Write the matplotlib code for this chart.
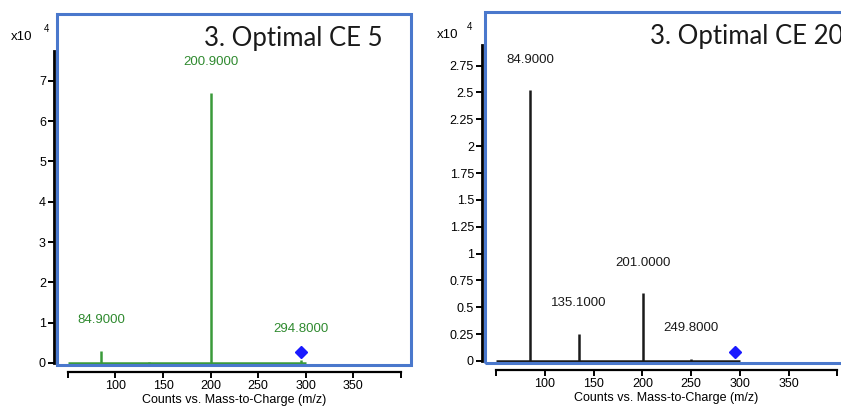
import matplotlib
matplotlib.use("Agg")
import matplotlib.pyplot as plt
from matplotlib.patches import Rectangle

plt.rcParams['font.family'] = ['Liberation Sans', 'DejaVu Sans']

# Spectrum at CE 5 (intensity in units of 10^4 counts)
ce5_mz = [84.9, 135.1, 200.9, 294.8]
ce5_int = [0.30, 0.03, 6.70, 0.08]
ce5_labels = ['84.9000', None, '200.9000', '294.8000']

# Spectrum at CE 20
ce20_mz = [84.9, 135.1, 201.0, 249.8]
ce20_int = [2.52, 0.25, 0.63, 0.02]
ce20_labels = ['84.9000', '135.1000', '201.0000', '249.8000']

precursor_mz = 294.8
ce5_precursor_y = 0.27
ce20_precursor_y = 0.085

ce5_yticks = [0, 1, 2, 3, 4, 5, 6, 7]
ce20_yticks = [0, 0.25, 0.5, 0.75, 1, 1.25, 1.5, 1.75, 2, 2.25, 2.5, 2.75]
xticks = [50, 100, 150, 200, 250, 300, 350, 400]
xticklabels = ['', '100', '150', '200', '250', '300', '350', '']

fig = plt.figure(figsize=(8.41, 4.13), dpi=100)
ax1 = fig.add_axes([0.0678, 0.1162, 0.421, 0.850])
ax2 = fig.add_axes([0.5767, 0.121, 0.4316, 0.850])

BLUE = '#4a78cc'


def spectrum(ax, mz, inten, labels, color, txtcolor, yticks, ylim, ytop, prec_y,
             title, title_x, title_ha, frame_w):
    ax.set_xlim(38.5, 411)
    ax.set_ylim(*ylim)
    ax.hlines(0, 50, 300, color=color, lw=1.8, zorder=3)
    ax.vlines(mz, 0, inten, color=color, lw=1.8, zorder=3)
    for m, v, lab in zip(mz, inten, labels):
        if lab:
            ax.annotate(lab, (m, v), xytext=(0, 22), textcoords='offset points',
                        ha='center', va='center', fontsize=9.5, color=txtcolor)
    ax.plot([precursor_mz], [prec_y], marker='D', ms=6, color='#1a1aff',
            ls='none', zorder=4, clip_on=False)

    for s in ['top', 'right']:
        ax.spines[s].set_visible(False)
    ax.spines['left'].set_position(('outward', 2))
    ax.spines['left'].set_bounds(0, ytop)
    ax.spines['left'].set_linewidth(2)
    ax.spines['bottom'].set_position(('outward', 5))
    ax.spines['bottom'].set_bounds(50, 400)
    ax.spines['bottom'].set_linewidth(1.6)

    ax.set_yticks(yticks)
    ax.set_yticklabels([f'{t:g}' for t in yticks])
    ax.set_xticks(xticks)
    ax.set_xticklabels(xticklabels)
    ax.tick_params(axis='both', labelsize=9, length=4, width=1.4, pad=2)
    ax.set_xlabel('Counts vs. Mass-to-Charge (m/z)', fontsize=9, labelpad=1)

    # blue frame around the plot area
    ax.add_patch(Rectangle((0, 0), frame_w, 1, transform=ax.transAxes, fill=False,
                           ec=BLUE, lw=2.2, clip_on=False, zorder=5))
    ax.text(title_x, 0.93, title, transform=ax.transAxes, ha=title_ha, va='center',
            fontsize=18.5, family='Lato', color='#1a1a1a')


spectrum(ax1, ce5_mz, ce5_int, ce5_labels, '#3a9a3a', '#2f8a2f', ce5_yticks,
         (-0.05, 8.66), 7.75, ce5_precursor_y, '3. Optimal CE 5', 0.92, 'right', 1.0)
spectrum(ax2, ce20_mz, ce20_int, ce20_labels, '#1a1a1a', '#1a1a1a', ce20_yticks,
         (-0.02, 3.25), 2.94, ce20_precursor_y, '3. Optimal CE 20', 0.455, 'left', 1.1)

# exponent markers
fig.text(11 / 841, 1 - 37 / 413, 'x10', fontsize=9.5, va='center')
fig.text(44 / 841, 1 - 29 / 413, '4', fontsize=7, va='center')
fig.text(437 / 841, 1 - 35 / 413, 'x10', fontsize=9.5, va='center')
fig.text(467 / 841, 1 - 27 / 413, '4', fontsize=7, va='center')

fig.savefig('out.png', dpi=100)
